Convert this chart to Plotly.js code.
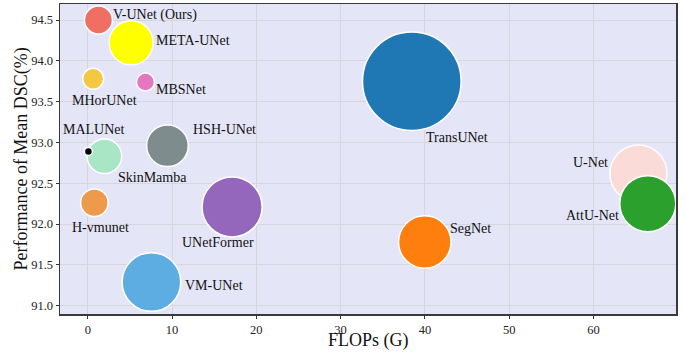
<!DOCTYPE html>
<html>
<head>
<meta charset="utf-8">
<script src="https://cdn.plot.ly/plotly-3.0.1.min.js"></script>
<style>
  html, body { margin: 0; padding: 0; background: #fff; }
  #chart { width: 686px; height: 352px; }
</style>
</head>
<body>
<div id="chart"></div>
<script>
// Segmentation models: compute cost (GFLOPs), mean DSC (%) and parameter count (M, bubble area)
const models = ['U-Net', 'AttU-Net', 'TransUNet', 'SegNet', 'UNetFormer', 'VM-UNet', 'HSH-UNet',
                'H-vmunet', 'SkinMamba', 'MALUNet', 'MHorUNet', 'MBSNet', 'META-UNet', 'V-UNet (Ours)'];
const flops  = [65.34, 66.45, 38.45, 39.99, 17.12, 7.55, 9.45, 0.78, 1.97, 0.07, 0.63, 6.84, 5.14, 1.26];
const dsc    = [92.62, 92.25, 93.75, 91.78, 92.21, 91.29, 92.96, 92.26, 92.83, 92.89, 93.78, 93.74, 94.22, 94.50];
const params = [35.1, 33.9, 105.0, 29.7, 38.9, 37.1, 18.7, 8.2, 12.9, 0.69, 4.76, 3.5, 20.9, 8.47];

const colors = ['#FADBD8', '#2CA02C', '#1F77B4', '#FF7F0E', '#9467BD', '#5DADE2', '#7F8C8D',
                '#EE9A4D', '#A8E6C6', '#000000', '#F4C842', '#E377C2', '#FFFF00', '#EF6F62'];

// label placement per model: [anchor, dx px, dy px]
const labelPos = {
  'U-Net':         ['right', -28, 11],
  'AttU-Net':      ['right', -27, -12],
  'TransUNet':     ['left', 12, -56],
  'SegNet':        ['left', 23, 14],
  'UNetFormer':    ['center', -14, -36],
  'VM-UNet':       ['left', 32, -3],
  'HSH-UNet':      ['left', 24, 16],
  'H-vmunet':      ['center', 6, -25],
  'SkinMamba':     ['left', 12, -21],
  'MALUNet':       ['center', 6, 22],
  'MHorUNet':      ['center', 11, -22],
  'MBSNet':        ['left', 9, -7],
  'META-UNet':     ['left', 23, 2],
  'V-UNet (Ours)': ['left', 13, 5]
};

const xTitle = 'FLOPs (G)';
const yTitle = 'Performance of Mean DSC(%)';

const serif = 'Liberation Serif, Times New Roman, serif';

// bubble area proportional to parameter count
const trace = {
  type: 'scatter',
  mode: 'markers',
  x: flops,
  y: dsc,
  text: models,
  hoverinfo: 'text',
  marker: {
    size: params,
    sizemode: 'area',
    sizeref: 0.0216,
    color: colors,
    opacity: 1,
    line: { color: '#ffffff', width: 1.5 }
  },
  showlegend: false
};

const annotations = models.map((m, i) => ({
  x: flops[i],
  y: dsc[i],
  xref: 'x',
  yref: 'y',
  text: m,
  showarrow: false,
  xanchor: labelPos[m][0],
  yanchor: 'middle',
  xshift: labelPos[m][1],
  yshift: labelPos[m][2],
  font: { family: serif, size: 14, color: '#111' }
}));

// axis titles
annotations.push({
  xref: 'paper', yref: 'paper', x: 0.5, y: -0.087,
  xanchor: 'center', yanchor: 'middle', showarrow: false,
  text: xTitle, font: { family: serif, size: 18, color: '#111' }
});
annotations.push({
  xref: 'paper', yref: 'paper', x: -0.064, y: 0.5,
  xanchor: 'center', yanchor: 'middle', showarrow: false, textangle: -90,
  text: yTitle, font: { family: serif, size: 18, color: '#111' }
});

const layout = {
  width: 686,
  height: 352,
  margin: { l: 60, r: 10, t: 4, b: 38 },
  paper_bgcolor: '#ffffff',
  plot_bgcolor: '#E5E5F8',
  font: { family: serif, color: '#222' },
  xaxis: {
    range: [-3.3, 69.8],
    tickvals: [0, 10, 20, 30, 40, 50, 60],
    ticks: 'outside',
    ticklen: 3,
    tickcolor: '#333',
    tickfont: { family: serif, size: 12.5, color: '#222' },
    showgrid: true,
    gridcolor: '#D6D6DC',
    gridwidth: 1,
    zeroline: false,
    showline: true,
    linecolor: '#3a3a3a',
    linewidth: 1.5,
    mirror: true
  },
  yaxis: {
    range: [90.898, 94.696],
    tickvals: [91.0, 91.5, 92.0, 92.5, 93.0, 93.5, 94.0, 94.5],
    ticktext: ['91.0', '91.5', '92.0', '92.5', '93.0', '93.5', '94.0', '94.5'],
    ticks: 'outside',
    ticklen: 3,
    tickcolor: '#333',
    tickfont: { family: serif, size: 12.5, color: '#222' },
    showgrid: true,
    gridcolor: '#D6D6DC',
    gridwidth: 1,
    zeroline: false,
    showline: true,
    linecolor: '#3a3a3a',
    linewidth: 1.5,
    mirror: true
  },
  annotations: annotations
};

Plotly.newPlot('chart', [trace], layout, { staticPlot: true, displayModeBar: false });
</script>
</body>
</html>
